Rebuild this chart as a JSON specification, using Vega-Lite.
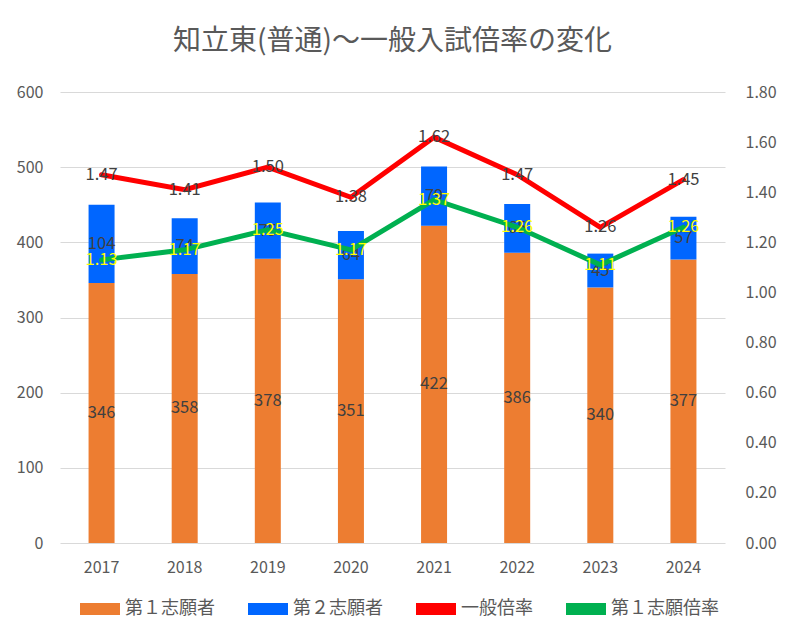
{
  "$schema": "https://vega.github.io/schema/vega-lite/v6.json",
  "width": 665,
  "height": 451,
  "autosize": {"type": "none"},
  "padding": {"left": 60, "top": 92, "right": 66, "bottom": 97},
  "background": "white",
  "config": {
    "font": "Noto Sans CJK JP",
    "view": {"stroke": null},
    "axis": {"labelFont": "Noto Sans CJK JP", "labelColor": "#595959", "labelFontSize": 16, "domain": false, "ticks": false, "title": null},
    "legend": {"labelFont": "Noto Sans CJK JP"}
  },
  "title": {
    "text": "知立東(普通)～一般入試倍率の変化",
    "fontSize": 28,
    "fontWeight": "normal",
    "color": "#595959",
    "anchor": "middle",
    "offset": 28
  },
  "datasets": {
    "bars": [
      {"year": "2017", "series": "第１志願者", "value": 346},
      {"year": "2017", "series": "第２志願者", "value": 104},
      {"year": "2018", "series": "第１志願者", "value": 358},
      {"year": "2018", "series": "第２志願者", "value": 74},
      {"year": "2019", "series": "第１志願者", "value": 378},
      {"year": "2019", "series": "第２志願者", "value": 75},
      {"year": "2020", "series": "第１志願者", "value": 351},
      {"year": "2020", "series": "第２志願者", "value": 64},
      {"year": "2021", "series": "第１志願者", "value": 422},
      {"year": "2021", "series": "第２志願者", "value": 79},
      {"year": "2022", "series": "第１志願者", "value": 386},
      {"year": "2022", "series": "第２志願者", "value": 65},
      {"year": "2023", "series": "第１志願者", "value": 340},
      {"year": "2023", "series": "第２志願者", "value": 45},
      {"year": "2024", "series": "第１志願者", "value": 377},
      {"year": "2024", "series": "第２志願者", "value": 57}
    ],
    "rates": [
      {"year": "2017", "general": 1.47, "first": 1.13},
      {"year": "2018", "general": 1.41, "first": 1.17},
      {"year": "2019", "general": 1.50, "first": 1.25},
      {"year": "2020", "general": 1.38, "first": 1.17},
      {"year": "2021", "general": 1.62, "first": 1.37},
      {"year": "2022", "general": 1.47, "first": 1.26},
      {"year": "2023", "general": 1.26, "first": 1.11},
      {"year": "2024", "general": 1.45, "first": 1.26}
    ]
  },
  "layer": [
    {
      "data": {"name": "bars"},
      "transform": [
        {"stack": "value", "groupby": ["year"], "sort": [{"field": "series", "order": "ascending"}], "as": ["v0", "v1"]}
      ],
      "encoding": {
        "x": {"field": "year", "type": "nominal", "axis": {"labelAngle": 0, "labelPadding": 16, "grid": false}}
      },
      "layer": [
        {
          "mark": {"type": "bar", "size": 26},
          "encoding": {
            "y": {"field": "v0", "type": "quantitative", "scale": {"domain": [0, 600], "nice": false}, "axis": {"values": [0, 100, 200, 300, 400, 500, 600], "grid": true, "gridColor": "#D9D9D9", "gridWidth": 1, "labelPadding": 17, "orient": "left"}},
            "y2": {"field": "v1"},
            "color": {
              "field": "series",
              "type": "nominal",
              "scale": {"domain": ["第１志願者", "第２志願者", "一般倍率", "第１志願倍率"], "range": ["#ED7D31", "#0066FF", "#FF0000", "#00B050"]},
              "legend": {
                "orient": "none",
                "legendX": 20,
                "legendY": 497,
                "direction": "horizontal",
                "title": null,
                "symbolType": "M-1,-0.3H1V0.3H-1Z",
                "symbolSize": 1600,
                "symbolStrokeWidth": 0,
                "labelFontSize": 18,
                "labelColor": "#595959",
                "labelOffset": 5,
                "columnPadding": 33
              }
            }
          }
        },
        {
          "transform": [
            {"fold": ["v0", "v1"], "as": ["edge", "pos"]},
            {"aggregate": [{"op": "mean", "field": "pos", "as": "mid"}], "groupby": ["year", "series", "value"]}
          ],
          "mark": {"type": "text", "fontSize": 16.5, "color": "#404040", "baseline": "middle"},
          "encoding": {
            "y": {"field": "mid", "type": "quantitative", "stack": null},
            "text": {"field": "value", "type": "quantitative"}
          }
        }
      ]
    },
    {
      "data": {"name": "rates"},
      "encoding": {
        "x": {"field": "year", "type": "nominal"}
      },
      "layer": [
        {
          "mark": {"type": "line", "color": "#FF0000", "strokeWidth": 5, "strokeCap": "round"},
          "encoding": {
            "y": {"field": "general", "type": "quantitative", "scale": {"domain": [0, 1.8], "nice": false}, "axis": {"orient": "right", "values": [0, 0.2, 0.4, 0.6, 0.8, 1.0, 1.2, 1.4, 1.6, 1.8], "format": ".2f", "grid": false, "labelPadding": 20}}
          }
        },
        {
          "mark": {"type": "line", "color": "#00B050", "strokeWidth": 5, "strokeCap": "round"},
          "encoding": {
            "y": {"field": "first", "type": "quantitative"}
          }
        },
        {
          "mark": {"type": "text", "fontSize": 16.5, "color": "#404040", "baseline": "middle"},
          "encoding": {
            "y": {"field": "general", "type": "quantitative"},
            "text": {"field": "general", "type": "quantitative", "format": ".2f"}
          }
        },
        {
          "mark": {"type": "text", "fontSize": 16.5, "color": "#FFFF00", "baseline": "middle"},
          "encoding": {
            "y": {"field": "first", "type": "quantitative"},
            "text": {"field": "first", "type": "quantitative", "format": ".2f"}
          }
        }
      ]
    }
  ],
  "resolve": {"scale": {"y": "independent"}}
}
